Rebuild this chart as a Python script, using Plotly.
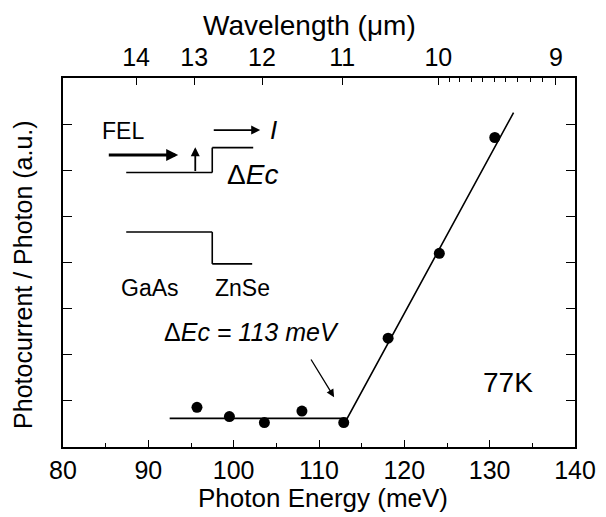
import plotly.graph_objects as go

# ---- data ----
energy_meV = [95.7, 99.5, 103.6, 108.0, 112.9, 118.1, 124.1, 130.6]
photocurrent = [0.86, 0.66, 0.53, 0.78, 0.53, 2.36, 4.20, 6.71]

fit_energy = [92.5, 113.3, 132.8]
fit_value = [0.62, 0.62, 7.25]

x_ticks = [80, 90, 100, 110, 120, 130, 140]
x_minor = [85, 95, 105, 115, 125, 135]
y_ticks = [1, 2, 3, 4, 5, 6, 7]
wavelength_ticks = [14, 13, 12, 11, 10, 9]
wavelength_minor = [9.1, 9.2, 9.3, 9.4, 9.5, 9.6, 9.7, 9.8, 9.9]
HC = 1239.84  # meV*um

FONT = "Liberation Sans"
fs = 25

fig = go.Figure()
fig.add_trace(go.Scatter(x=fit_energy, y=fit_value, mode="lines",
                         line=dict(color="black", width=1.6), hoverinfo="skip"))
fig.add_trace(go.Scatter(x=energy_meV, y=photocurrent, mode="markers",
                         marker=dict(color="black", size=11), hoverinfo="skip"))
# invisible trace so the top axis is drawn
fig.add_trace(go.Scatter(x=energy_meV, y=photocurrent, mode="markers", xaxis="x2",
                         marker=dict(opacity=0), hoverinfo="skip"))

def ann(text, x, y, size=fs, **kw):
    fig.add_annotation(text=text, x=x, y=y, xref="x", yref="y", showarrow=False,
                       font=dict(family=FONT, size=size, color="black"), **kw)

def pann(text, x, y, size=fs, **kw):
    fig.add_annotation(text=text, x=x, y=y, xref="paper", yref="paper", showarrow=False,
                       xanchor="center", yanchor="middle",
                       font=dict(family=FONT, size=size, color="black"), **kw)

def arrow(x0, y0, x1, y1, width=1.5, head=2, hsize=1.0):
    fig.add_annotation(x=x1, y=y1, ax=x0, ay=y0, xref="x", yref="y", axref="x", ayref="y",
                       text="", showarrow=True, arrowhead=head, arrowsize=hsize,
                       arrowwidth=width, arrowcolor="black")

def seg(x0, y0, x1, y1, width=1.6):
    fig.add_shape(type="line", x0=x0, y0=y0, x1=x1, y1=y1, xref="x", yref="y",
                  line=dict(color="black", width=width))

# inset band diagram
ann("FEL", 87.06, 6.85, size=23)
arrow(85.19, 6.33, 93.5, 6.33, width=3, head=2, hsize=0.8)
seg(87.41, 5.95, 97.49, 5.95)
arrow(95.5, 5.95, 95.5, 6.5, width=1.8, head=2, hsize=1.0)
seg(97.49, 5.95, 97.49, 6.49)
seg(97.49, 6.49, 102.29, 6.49)
arrow(97.49, 6.87, 103.11, 6.87, width=1.8, head=2, hsize=1.0)
ann("<i>I</i>", 104.63, 6.87, size=26)
ann("Δ<i>Ec</i>", 102.17, 5.9, size=28)
seg(87.41, 4.66, 97.49, 4.66)
seg(97.49, 4.66, 97.49, 3.97)
seg(97.49, 3.97, 102.17, 3.97)
ann("GaAs", 90.22, 3.45, size=23)
ann("ZnSe", 101.06, 3.45, size=23)

# annotations
ann("Δ<i>Ec = 113 meV</i>", 102.05, 2.49, size=25)
arrow(108.96, 1.93, 111.77, 1.08, width=1.3, head=2, hsize=1.2)
ann("77K", 132.2, 1.39, size=28)

# axis titles (placed manually so the plot area stays fixed)
pann("Photon Energy (meV)", 0.508, -0.138, size=26)
pann("Wavelength (μm)", 0.482, 1.1436, size=28)
pann("Photocurrent / Photon (a.u.)", -0.077, 0.468, size=25, textangle=-90)

axis_common = dict(showgrid=False, zeroline=False, linecolor="black", linewidth=1.5,
                   ticks="inside", tickcolor="black", tickwidth=1.3, automargin=False,
                   tickfont=dict(family=FONT, size=fs, color="black"))

# the page body has an 8px margin, so the figure is 8px smaller and its
# left/top margins 8px less, keeping the plot box at the reference position
fig.update_layout(
    width=598, height=509,
    margin=dict(l=55, r=31, t=70, b=70),
    paper_bgcolor="white", plot_bgcolor="white",
    showlegend=False,
    xaxis=dict(range=[80, 140], tickvals=x_ticks, ticklen=7, showline=True, mirror=False,
               minor=dict(tickvals=x_minor, ticks="inside", ticklen=4,
                          tickcolor="black", tickwidth=1.2),
               **axis_common),
    xaxis2=dict(range=[80, 140], overlaying="x", side="top", showline=True,
                tickvals=[HC / w for w in wavelength_ticks],
                ticktext=[str(w) for w in wavelength_ticks], ticklen=7,
                minor=dict(tickmode="array", tickvals=[HC / w for w in wavelength_minor],
                           ticks="inside", ticklen=4, tickcolor="black", tickwidth=1.2),
                **axis_common),
    yaxis=dict(range=[0, 8], tickvals=y_ticks, showticklabels=False,
               ticklen=9, showline=True, mirror="ticks",
               **axis_common),
)

fig.write_html("out.html")
